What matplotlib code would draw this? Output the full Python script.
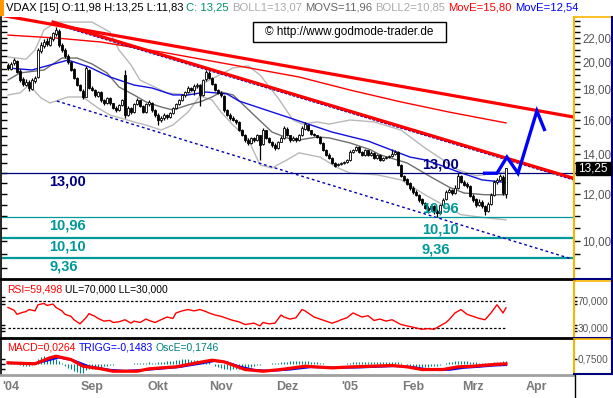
import matplotlib
matplotlib.use("Agg")
import matplotlib.pyplot as plt
from matplotlib.lines import Line2D
from matplotlib.patches import Rectangle
from matplotlib.ticker import FixedLocator, NullFormatter, FixedFormatter
from matplotlib.transforms import blended_transform_factory
from matplotlib import font_manager

# ---- daily candles (VDAX, 23.07.2004 - 16.03.2005) ----
opens = [19.80, 19.50, 19.90, 20.10, 19.30, 18.70, 18.30, 18.55, 18.00, 18.60,
         18.90, 20.90, 21.30, 21.70, 21.40, 21.90, 22.30, 22.60, 21.40, 21.00,
         20.50, 20.00, 19.45, 18.80, 18.30, 17.90, 17.50, 19.40, 18.10, 17.95,
         17.55, 17.80, 17.25, 17.05, 17.40, 17.05, 16.75, 16.60, 16.95, 19.00,
         16.30, 16.75, 16.50, 17.00, 17.25, 16.85, 16.50, 17.00, 17.10, 16.60,
         16.30, 15.95, 16.10, 16.30, 16.15, 16.40, 16.75, 17.00, 17.25, 17.60,
         17.80, 18.10, 17.95, 18.20, 18.30, 17.60, 18.70, 19.20, 18.80, 18.35,
         17.95, 17.75, 17.55, 16.60, 16.30, 16.10, 15.95, 15.85, 15.35, 15.05,
         14.80, 14.60, 14.90, 14.80, 15.05, 14.55, 15.35, 14.90, 14.65, 14.50,
         14.35, 14.70, 14.90, 15.45, 15.05, 14.80, 14.90, 14.80, 15.05, 15.45,
         15.70, 15.35, 15.15, 15.05, 14.95, 14.60, 14.25, 13.95, 13.80, 13.55,
         13.40, 13.45, 13.50, 13.60, 13.70, 14.10, 14.25, 14.40, 14.10, 13.95,
         14.20, 13.95, 14.05, 13.80, 13.95, 13.70, 13.80, 13.85, 13.90, 14.00,
         14.10, 13.40, 12.85, 12.70, 12.50, 12.30, 12.10, 11.95, 11.75, 11.60,
         11.35, 11.30, 11.45, 11.25, 11.15, 11.50, 11.75, 12.10, 12.20, 12.05,
         12.30, 12.85, 12.55, 12.45, 12.35, 11.90, 11.75, 11.50, 11.65, 11.45,
         11.25, 11.55, 11.95, 12.55, 12.65, 12.80, 11.98]
highs = [19.95, 20.00, 20.35, 20.20, 19.45, 18.85, 18.70, 18.65, 18.80, 18.95,
         21.10, 21.60, 21.90, 21.95, 22.10, 22.50, 22.95, 22.70, 21.50, 21.10,
         20.60, 20.10, 19.55, 18.90, 18.40, 18.00, 19.70, 19.50, 18.20, 18.05,
         17.90, 17.85, 17.35, 17.50, 17.45, 17.10, 16.85, 17.00, 17.35, 19.40,
         16.85, 16.80, 17.10, 17.40, 17.30, 16.95, 17.10, 17.25, 17.15, 16.70,
         16.40, 16.20, 16.40, 16.35, 16.50, 16.80, 17.10, 17.35, 17.70, 17.90,
         18.20, 18.15, 18.35, 18.45, 18.35, 18.75, 19.40, 19.30, 18.90, 18.45,
         18.05, 17.90, 17.60, 16.70, 16.40, 16.20, 16.05, 15.90, 15.45, 15.15,
         14.90, 14.95, 14.95, 15.15, 15.10, 15.50, 15.40, 14.95, 14.75, 14.60,
         14.75, 15.00, 15.60, 15.55, 15.10, 15.00, 14.95, 15.15, 15.60, 15.85,
         15.75, 15.40, 15.20, 15.10, 15.00, 14.65, 14.30, 14.05, 13.85, 13.60,
         13.55, 13.60, 13.65, 13.75, 14.20, 14.30, 14.45, 14.45, 14.15, 14.30,
         14.25, 14.15, 14.10, 14.00, 14.00, 13.85, 13.90, 13.95, 14.30, 14.25,
         14.15, 13.45, 12.90, 12.75, 12.55, 12.35, 12.20, 12.00, 11.80, 11.65,
         11.45, 11.55, 11.50, 11.30, 11.55, 11.80, 12.20, 12.30, 12.25, 12.40,
         13.00, 12.90, 12.65, 12.55, 12.40, 12.00, 11.80, 11.75, 11.70, 11.50,
         11.65, 12.05, 12.65, 12.75, 12.95, 12.90, 13.25]
lows = [19.40, 19.40, 19.75, 19.15, 18.55, 18.20, 18.20, 17.90, 17.95, 18.45,
        18.80, 20.70, 21.10, 21.30, 21.30, 21.70, 22.10, 21.20, 20.80, 20.30,
        19.85, 19.30, 18.70, 18.20, 17.85, 17.35, 17.45, 18.00, 17.85, 17.50,
        17.45, 17.15, 16.95, 17.00, 16.95, 16.65, 16.50, 16.55, 16.90, 16.10,
        16.20, 16.35, 16.45, 16.95, 16.80, 16.40, 16.45, 16.90, 16.50, 16.15,
        15.65, 15.85, 16.00, 16.05, 16.10, 16.35, 16.70, 16.95, 17.20, 17.50,
        17.75, 17.85, 17.60, 18.10, 16.90, 17.55, 18.60, 18.70, 18.30, 17.85,
        17.65, 17.50, 16.50, 16.20, 16.00, 15.90, 15.75, 15.30, 15.00, 14.70,
        14.50, 14.55, 14.70, 14.75, 13.70, 14.50, 14.85, 14.60, 14.40, 14.25,
        14.30, 14.65, 14.85, 15.00, 14.70, 14.75, 14.70, 14.75, 15.00, 15.40,
        15.30, 15.05, 15.00, 14.90, 14.55, 14.15, 13.90, 13.75, 13.45, 13.30,
        13.35, 13.40, 13.45, 13.55, 13.65, 14.05, 14.15, 14.05, 13.90, 13.90,
        13.90, 13.90, 13.75, 13.75, 13.65, 13.65, 13.75, 13.80, 13.85, 13.95,
        13.35, 12.80, 12.60, 12.40, 12.20, 12.00, 11.90, 11.65, 11.50, 11.30,
        11.15, 11.25, 11.10, 10.96, 11.10, 11.45, 11.70, 12.05, 11.95, 12.00,
        12.25, 12.50, 12.35, 12.30, 11.85, 11.65, 11.40, 11.45, 11.35, 11.05,
        11.20, 11.50, 11.90, 12.45, 12.60, 11.95, 11.83]
closes = [19.55, 19.86, 20.16, 19.25, 18.66, 18.37, 18.52, 18.09, 18.66, 18.81,
          20.96, 21.37, 21.62, 21.45, 21.96, 22.39, 22.65, 21.37, 20.96, 20.48,
          20.00, 19.40, 18.81, 18.30, 17.95, 17.47, 19.55, 18.09, 17.95, 17.61,
          17.81, 17.27, 17.07, 17.41, 17.07, 16.74, 16.61, 16.94, 17.27, 16.29,
          16.74, 16.48, 17.01, 17.27, 16.87, 16.48, 17.01, 17.14, 16.61, 16.29,
          15.98, 16.10, 16.29, 16.17, 16.42, 16.74, 17.01, 17.27, 17.61, 17.81,
          18.09, 17.95, 18.23, 18.30, 17.61, 18.66, 19.25, 18.81, 18.37, 17.95,
          17.75, 17.61, 16.61, 16.29, 16.10, 15.98, 15.86, 15.37, 15.08, 14.79,
          14.62, 14.91, 14.79, 15.08, 14.51, 15.37, 14.91, 14.68, 14.51, 14.34,
          14.68, 14.91, 15.49, 15.08, 14.79, 14.91, 14.79, 15.08, 15.49, 15.73,
          15.37, 15.14, 15.08, 14.96, 14.62, 14.23, 13.96, 13.80, 13.53, 13.38,
          13.48, 13.53, 13.59, 13.69, 14.12, 14.23, 14.40, 14.12, 13.96, 14.23,
          13.96, 14.07, 13.80, 13.96, 13.69, 13.80, 13.85, 13.91, 14.01, 14.12,
          13.43, 12.87, 12.67, 12.48, 12.29, 12.10, 11.96, 11.73, 11.59, 11.37,
          11.28, 11.46, 11.24, 11.16, 11.50, 11.73, 12.10, 12.19, 12.05, 12.29,
          12.87, 12.57, 12.43, 12.38, 11.91, 11.73, 11.50, 11.64, 11.46, 11.24,
          11.55, 11.96, 12.57, 12.67, 12.87, 12.02, 13.25]

# ---- indicator lines, read at points along each curve (bar index, value) ----
ema_slow_x = [0, 16, 31, 53, 75, 97, 114, 131, 147, 166]
ema_slow = [22.21, 21.96, 21.62, 20.72, 19.78, 18.88, 17.95, 17.14, 16.48, 15.80]
ema_fast_x = [0, 8, 20, 27, 34, 42, 48, 55, 60, 66, 73, 77, 86, 93, 97, 108, 120, 126,
              134, 139, 144, 150, 158, 166]
ema_fast = [19.55, 19.40, 20.16, 19.63, 18.88, 18.30, 18.09, 17.61, 17.61, 17.81, 17.68,
            17.20, 16.61, 16.17, 15.92, 15.25, 14.73, 14.34, 13.84, 13.69, 13.42, 13.07,
            12.67, 12.54]
movs_x = [0, 4, 12, 18, 23, 28, 33, 37, 42, 46, 51, 55, 60, 64, 68, 71, 75, 82, 88, 94,
          97, 103, 107, 114, 121, 124, 133, 141, 147, 152, 159, 166]
movs = [18.66, 19.18, 19.40, 20.32, 20.32, 19.86, 19.18, 18.16, 17.61, 17.14, 16.81,
        16.61, 16.94, 17.14, 17.47, 17.81, 17.61, 16.29, 15.25, 14.85, 14.79, 14.96,
        14.91, 14.62, 14.23, 13.96, 13.53, 12.81, 12.32, 12.04, 11.96, 11.96]
boll_up_x = [0, 6, 9, 12, 16, 28, 34, 37, 41, 44, 53, 60, 64, 75, 80, 84, 90, 95, 98,
             103, 107, 114, 122, 131, 139, 145, 150, 156, 161, 166]
boll_up = [20.40, 20.23, 20.96, 22.65, 23.36, 23.36, 22.47, 20.96, 19.78, 18.66, 17.75,
           17.61, 18.30, 19.55, 19.71, 19.03, 17.41, 15.98, 15.73, 15.86, 15.73, 15.98,
           15.86, 15.37, 14.34, 13.69, 13.17, 12.87, 12.97, 13.07]
boll_lo_x = [0, 4, 7, 11, 14, 20, 25, 30, 34, 42, 46, 51, 55, 60, 64, 68, 71, 75, 80,
             84, 88, 93, 97, 104, 110, 114, 123, 131, 139, 145, 151, 159, 166]
boll_lo = [17.61, 17.75, 18.30, 17.41, 17.07, 17.47, 17.47, 16.74, 16.29, 15.86, 15.67,
           15.37, 15.67, 16.48, 17.54, 17.27, 16.48, 15.67, 14.85, 13.42, 13.27, 13.69,
           14.07, 13.84, 13.27, 13.01, 12.92, 12.67, 11.96, 11.50, 11.07, 10.94, 10.85]

rsi_x = [0, 2, 3, 5, 6, 7, 9, 10, 12, 13, 15, 16, 18, 19, 21, 22, 24, 26, 27, 29, 30,
         32, 34, 35, 37, 39, 41, 42, 44, 46, 47, 49, 51, 53, 55, 56, 58, 60, 62, 64, 66,
         67, 69, 71, 73, 75, 77, 79, 82, 84, 85, 87, 89, 91, 92, 94, 96, 98, 99, 102,
         104, 106, 108, 110, 111, 113, 115, 116, 118, 120, 122, 124, 126, 128, 131, 133,
         134, 136, 138, 140, 142, 144, 146, 147, 149, 151, 153, 155, 157, 159, 161, 163,
         165, 166]
rsi = [60, 56, 50, 53, 54, 57, 55, 64, 66, 63, 65, 60, 55, 50, 47, 42, 36, 45, 51, 47,
       44, 40, 41, 38, 39, 42, 37, 40, 38, 43, 41, 38, 42, 46, 44, 52, 55, 57, 55, 57,
       54, 52, 49, 47, 44, 41, 39, 35, 37, 33, 38, 36, 37, 49, 46, 43, 45, 57, 55, 46,
       43, 40, 37, 40, 42, 45, 52, 50, 46, 48, 41, 43, 40, 42, 35, 33, 32, 30, 28, 29,
       28, 33, 38, 42, 52, 57, 50, 47, 44, 42, 52, 64, 52, 59.5]

macd_x = [0, 9, 14, 16, 21, 25, 31, 35, 43, 47, 56, 63, 68, 72, 76, 79, 85, 91, 99, 108,
          115, 128, 133, 138, 145, 150, 155, 162, 166]
macd = [0.17, 0.03, 0.90, 1.13, 0.65, -0.32, -0.70, -1.05, -1.05, -0.70, -0.41, 0.17,
        0.55, 0.32, -0.32, -0.80, -1.05, -0.80, -0.32, -0.56, -0.41, -0.22, -0.41, -0.80,
        -0.80, -0.41, -0.32, -0.07, 0.026]
trigg_x = [0, 9, 14, 17, 22, 27, 34, 39, 46, 57, 64, 69, 73, 77, 82, 87, 94, 101, 109,
           117, 129, 135, 140, 147, 152, 157, 162, 166]
trigg = [0.15, 0.05, 0.60, 0.95, 0.50, -0.35, -0.85, -1.00, -0.85, -0.45, 0.05, 0.45,
         0.25, -0.35, -0.85, -1.00, -0.80, -0.45, -0.55, -0.50, -0.30, -0.45, -0.80,
         -0.85, -0.55, -0.40, -0.22, -0.148]
osc = [0.10, 0.08, 0.05, 0.02, -0.05, -0.10, -0.12, -0.10, -0.05,
       0.10, 0.35, 0.45, 0.50, 0.45, 0.40, 0.38, 0.35,
       0.20, 0.05, -0.10, -0.25, -0.35, -0.45, -0.50, -0.55, -0.58, -0.40, -0.30, -0.32,
       -0.30, -0.25,
       -0.20, -0.15, -0.10, -0.08, -0.05, -0.03, 0.00, 0.02, -0.02, 0.00, 0.03, 0.05,
       0.06, 0.08, 0.07, 0.08, 0.10, 0.09, 0.08, 0.10,
       0.12, 0.15, 0.18, 0.20, 0.22, 0.25, 0.28, 0.30, 0.32, 0.30, 0.28, 0.25, 0.26,
       0.20, 0.22,
       0.18, 0.10, 0.00, -0.10, -0.18, -0.25, -0.32, -0.35, -0.38, -0.35, -0.33, -0.30,
       -0.28, -0.25, -0.22,
       -0.18, -0.12, -0.08, -0.05, 0.00, 0.02, 0.03, 0.05, 0.06, 0.08, 0.10, 0.12, 0.15,
       0.16, 0.17, 0.18, 0.18, 0.20, 0.20, 0.18, 0.15, 0.12, 0.10, 0.08, 0.05, 0.02,
       0.00, -0.02, -0.03, -0.02,
       0.00, 0.02, 0.05, 0.08, 0.10, 0.12, 0.12, 0.12, 0.12, 0.12, 0.12, 0.11, 0.12,
       0.12, 0.10, 0.10, 0.10, 0.11, 0.12, 0.12, 0.08, 0.02, -0.05, -0.10, -0.15, -0.18,
       -0.20, -0.20, -0.20, -0.18,
       -0.15, -0.12, -0.10, -0.05, 0.00, 0.05, 0.10, 0.14, 0.16, 0.18, 0.20, 0.20, 0.18,
       0.15, 0.12, 0.10, 0.08, 0.07, 0.06, 0.07, 0.08, 0.10, 0.12, 0.14, 0.16, 0.17]

# ---- drawn objects: trend lines, horizontal levels, forecast arrow ----
trend_hi_x, trend_hi = [-3, 189], [24.02, 16.15]
trend_mid_x, trend_mid = [15, 188.7], [23.36, 12.74]
trend_lo_x, trend_lo = [16.3, 188], [17.20, 9.32]
levels = [13.00, 10.96, 10.10, 9.36]
level_text = ['13,00', '10,96', '10,10', '9,36']
arrow_x = [158.3, 163, 166.3, 170, 176.3, 179]
arrow_y = [13.0, 13.0, 13.84, 13.0, 16.55, 15.31]

month_pos = [1, 28, 50, 71, 93, 114, 135, 155, 176]
month_lbl = ["'04", 'Sep', 'Okt', 'Nov', 'Dez', "'05", 'Feb', 'Mrz', 'Apr']
price_ticks = [10, 12, 14, 16, 18, 20, 22]

W, H = 613, 398
YEL = '#f7b500'
NAVY = '#00007a'
TEAL = '#009999'

installed = {f.name for f in font_manager.fontManager.ttflist}
narrow = 'Liberation Sans Narrow' if 'Liberation Sans Narrow' in installed else 'Liberation Sans'
plt.rcParams['font.family'] = ['Liberation Sans', 'DejaVu Sans']

fig = plt.figure(figsize=(W / 100, H / 100), dpi=100)


def rect(top, bottom):
    return [1 / W, 1 - bottom / H, 573 / W, (bottom - top) / H]


def fline(xs, ys, **kw):
    fig.add_artist(Line2D([x / W for x in xs], [1 - y / H for y in ys],
                          transform=fig.transFigure, **kw))


X0, X1 = -2.333, 188.667

# ================= price panel =================
ax = fig.add_axes(rect(16.5, 278))
ax.set_yscale('log')
ax.set_xlim(X0, X1)
ax.set_ylim(8.66, 23.87)
for s in ['top', 'right', 'bottom']:
    ax.spines[s].set_visible(False)
ax.spines['left'].set_linewidth(1.2)
ax.set_xticks([])
minor = [v / 2 for v in range(18, 48)]
ax.yaxis.set_major_locator(FixedLocator(minor))
ax.yaxis.set_minor_locator(FixedLocator([]))
ax.yaxis.set_major_formatter(NullFormatter())
ax.yaxis.set_minor_formatter(NullFormatter())
ax.tick_params(axis='y', direction='in', length=4, width=1, left=True, right=False)

idx = list(range(len(closes)))
ax.plot(boll_up_x, boll_up, color='#b8b8b8', lw=1)
ax.plot(boll_lo_x, boll_lo, color='#b8b8b8', lw=1)
ax.plot(movs_x, movs, color='#6e6e6e', lw=1)
ax.plot(ema_fast_x, ema_fast, color='#1010e0', lw=1)
ax.plot(ema_slow_x, ema_slow, color='#ff0000', lw=1)

for lv, c, w in zip(levels, [NAVY, TEAL, TEAL, TEAL], [0.9, 0.9, 1.6, 1.6]):
    ax.axhline(lv, color=c, lw=w, zorder=2)

ax.vlines(idx, lows, highs, color='black', lw=0.9, zorder=3)
for i in idx:
    up = closes[i] >= opens[i]
    lo, hi = min(opens[i], closes[i]), max(opens[i], closes[i])
    ax.bar(i, max(hi - lo, 0.03), bottom=lo, width=0.66,
           color='white' if up else 'black', edgecolor='black', lw=0.6, zorder=4)

ax.plot(trend_lo_x, trend_lo, color='#0000b0', lw=1, ls=(0, (2, 2)), zorder=5)
ax.plot(trend_mid_x, [v * 0.994 for v in trend_mid], color='#0000b0', lw=1,
        ls=(0, (2, 1)), zorder=5)
ax.plot(trend_mid_x, trend_mid, color='#ff0000', lw=2.3, zorder=6)
ax.plot(trend_hi_x, trend_hi, color='#ff0000', lw=2.3, zorder=6)
ax.plot(arrow_x, arrow_y, color='#0000ff', lw=2.4, zorder=7,
        solid_joinstyle='miter', solid_capstyle='butt')

lblfont = dict(family=narrow, fontsize=10.5, fontweight='bold', va='center', ha='left',
               textcoords='offset points', zorder=8)
for lv, t in zip(levels, level_text):
    c = NAVY if t == '13,00' else TEAL
    ax.annotate(t, xy=(13.7, lv), xytext=(0, -6.2), color=c, **lblfont)
    ax.annotate(t, xy=(138, lv), xytext=(0, 6.2), color=c, **lblfont)

# right price scale
ax2 = ax.twinx()
ax2.set_yscale('log')
ax2.set_ylim(8.66, 23.87)
for s in ['top', 'left', 'bottom']:
    ax2.spines[s].set_visible(False)
ax2.spines['right'].set_color(YEL)
ax2.spines['right'].set_linewidth(1.5)
ax2.yaxis.set_major_locator(FixedLocator(price_ticks))
ax2.yaxis.set_major_formatter(FixedFormatter(['%d,00' % v for v in price_ticks]))
ax2.yaxis.set_minor_locator(FixedLocator([m for m in minor if m not in price_ticks]))
ax2.yaxis.set_minor_formatter(NullFormatter())
ax2.tick_params(axis='y', which='both', direction='out', length=4, width=1,
                color='black', labelsize=8.3, labelcolor='#555555', pad=2)

# copyright box
fig.add_artist(Rectangle((253 / W, 1 - 42 / H), 193 / W, 20 / H, transform=fig.transFigure,
                         fc='white', ec='black', lw=1, zorder=9))
fig.text(349.5 / W, 1 - 32.5 / H, '\u00a9 http://www.godmode-trader.de', fontsize=8.5,
         ha='center', va='center', zorder=10)

# last price tag
fig.add_artist(Rectangle((575.5 / W, 1 - 175 / H), 35 / W, 13 / H,
                         transform=fig.transFigure, fc='black', ec='black', zorder=9))
fig.text(593 / W, 1 - 168.5 / H, '13,25', color='white', fontsize=8.5, ha='center',
         va='center', zorder=10)

# ================= RSI panel =================
ar = fig.add_axes(rect(280.5, 337))
ar.set_xlim(X0, X1)
ar.set_ylim(16.7, 99.6)
for s in ['top', 'right', 'bottom']:
    ar.spines[s].set_visible(False)
ar.spines['left'].set_linewidth(1.2)
ar.set_xticks([])
ar.set_yticks([25, 30, 35, 65, 70, 75])
ar.yaxis.set_major_formatter(NullFormatter())
ar.tick_params(axis='y', direction='in', length=3, width=1)
ar.hlines([30, 70], 0, 166, colors='black', linestyles=(0, (2, 1.5)), lw=0.9)
ar.plot(rsi_x, rsi, color='#ff0000', lw=1)
ar2 = ar.twinx()
ar2.set_ylim(16.7, 99.6)
for s in ['top', 'left', 'bottom']:
    ar2.spines[s].set_visible(False)
ar2.spines['right'].set_color(YEL)
ar2.spines['right'].set_linewidth(1.5)
ar2.set_yticks([30, 70])
ar2.set_yticklabels(['30,000', '70,000'])
ar2.set_yticks([25, 35, 65, 75], minor=True)
ar2.tick_params(axis='y', which='both', direction='out', length=2, width=1,
                labelsize=7.2, labelcolor='#555555', pad=0.5)

# ================= MACD panel =================
am = fig.add_axes(rect(339, 373.5))
am.set_xlim(X0, X1)
am.set_ylim(-1.38, 3.63)
for s in ['top', 'right', 'bottom']:
    am.spines[s].set_visible(False)
am.spines['left'].set_linewidth(1.2)
am.set_xticks([])
am.set_yticks([-0.75, 0, 0.75])
am.yaxis.set_major_formatter(NullFormatter())
am.tick_params(axis='y', direction='in', length=3, width=1)
ao = am.twinx()
ao.set_ylim(-0.606, 1.594)
ao.axis('off')
ao.vlines(idx, 0, osc, color='#008080', lw=0.8)
am.set_zorder(ao.get_zorder() + 1)
am.patch.set_visible(False)
am.plot(trigg_x, trigg, color='#0000ff', lw=1.5)
am.plot(macd_x, macd, color='#ff0000', lw=2.3)
am2 = am.twinx()
am2.set_ylim(-1.38, 3.63)
for s in ['top', 'left', 'bottom']:
    am2.spines[s].set_visible(False)
am2.spines['right'].set_color(YEL)
am2.spines['right'].set_linewidth(1.5)
am2.set_yticks([0.75])
am2.set_yticklabels(['0,7500'])
am2.tick_params(axis='y', direction='out', length=2, width=1, labelsize=7.2,
                labelcolor='#555555', pad=0.5)

# month labels under the MACD panel
tr = blended_transform_factory(am.transData, fig.transFigure)
for p, t in zip(month_pos, month_lbl):
    am.text(p, 1 - 387 / H, t, transform=tr, ha='center', va='center', fontsize=9,
            fontweight='bold', color='#7a7a7a', clip_on=False)

# ================= frame lines =================
fline([0, 574], [278.5, 278.5], color='black', lw=2)
fline([0, 574], [337.5, 337.5], color='black', lw=2)
fline([0, 574], [374.5, 374.5], color='#a0a0a0', lw=2)
fline([574.5, 574.5], [374, 398], color='black', lw=1)
for top, bot in [(16.5, 278.5), (280.5, 337.5), (339, 374)]:
    fline([574, 611.5], [top, top], color=YEL, lw=1.2)
    fline([611.5, 611.5], [top, bot], color=NAVY, lw=1.5)
    fline([574, 611.5], [bot, bot], color=NAVY, lw=1.5)
fig.add_artist(Rectangle((0, 1 - 16 / H), 4 / W, 16 / H, transform=fig.transFigure,
                         fc='#ff9900', ec='none'))

# ================= coloured header lines =================
renderer = fig.canvas.get_renderer()


def header(x, y, parts, size):
    for s, c in parts:
        t = fig.text(x / W, 1 - y / H, s, color=c, fontsize=size, ha='left', va='center')
        x += t.get_window_extent(renderer).width + 3


header(6, 8, [('VDAX [15] O:11,98 H:13,25 L:11,83', 'black'), ('C: 13,25', '#00906a'),
              ('BOLL1=13,07', '#aaaaaa'), ('MOVS=11,96', '#666666'),
              ('BOLL2=10,85', '#aaaaaa'), ('MovE=15,80', '#ff0000'),
              ('MovE=12,54', '#0000ff')], 8.1)
header(7, 289, [('RSI=59,498', '#ff0000'), ('UL=70,000 LL=30,000', 'black')], 7.5)
header(7, 347, [('MACD=0,0264', '#ff0000'), ('TRIGG=-0,1483', '#0000ff'),
                ('OscE=0,1746', '#008080')], 7.5)

fig.savefig('out.png', dpi=100)
